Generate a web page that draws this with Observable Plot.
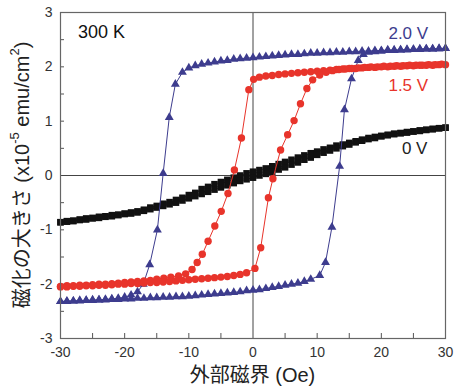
<!DOCTYPE html>
<html><head><meta charset="utf-8">
<script src="https://cdn.jsdelivr.net/npm/d3@7"></script>
<script src="https://cdn.jsdelivr.net/npm/@observablehq/plot@0.6"></script>
<style>
body{margin:0;background:#fff;}
svg{font-family:"Liberation Sans","Noto Sans CJK JP",sans-serif;}
</style></head>
<body><div id="chart"></div>
<script>
// ---- data (field H in Oe, magnetisation in 1e-5 emu/cm^2) ----
const blueDescH = [30,29,28,27,26,25,24,23,22,21,20,19,18,17,16,15,14,13,12,11,10,9,8,7,6,5,4,3,2,1,0,-1,-2,-3,-4,-5,-6,-7,-8,-9,-10,-11,-12.1,-13.05,-14.0,-14.9,-16.1,-17.1,-18,-19,-20,-21,-22,-23,-24,-25,-26,-27,-28,-29,-30];
const blueDescM = [2.34,2.34,2.33,2.33,2.33,2.32,2.32,2.31,2.31,2.31,2.30,2.30,2.29,2.29,2.28,2.28,2.27,2.27,2.26,2.26,2.25,2.25,2.24,2.23,2.23,2.22,2.21,2.20,2.19,2.18,2.17,2.16,2.15,2.14,2.12,2.11,2.09,2.07,2.05,2.02,1.98,1.90,1.68,1.07,0.04,-1.00,-1.64,-2.00,-2.14,-2.20,-2.24,-2.26,-2.27,-2.28,-2.29,-2.29,-2.30,-2.30,-2.31,-2.31,-2.32];
const blueAscH = [-30,-29,-28,-27,-26,-25,-24,-23,-22,-21,-20,-19,-18,-17,-16,-15,-14,-13,-12,-11,-10,-9,-8,-7,-6,-5,-4,-3,-2,-1,0,1,2,3,4,5,6,7,8,9,10.4,11.3,12.3,13.5,14.25,15.35,16.4,17.2,18,19,20,21,22,23,24,25,26,27,28,29,30];
const blueAscM = [-2.32,-2.32,-2.31,-2.31,-2.30,-2.30,-2.29,-2.29,-2.28,-2.28,-2.27,-2.27,-2.26,-2.26,-2.25,-2.25,-2.24,-2.24,-2.23,-2.23,-2.22,-2.21,-2.20,-2.19,-2.18,-2.17,-2.16,-2.15,-2.14,-2.12,-2.11,-2.10,-2.08,-2.06,-2.04,-2.02,-2.00,-1.98,-1.95,-1.91,-1.84,-1.60,-0.95,0.17,1.21,1.78,2.12,2.23,2.27,2.28,2.29,2.30,2.30,2.31,2.31,2.32,2.32,2.33,2.33,2.33,2.34];

const redDescH = [30,29,28,27,26,25,24,23,22,21,20,19,18,17,16,15,14,13,12,11,10,9,8,7,6,5,4,3,2,1,0.1,-0.65,-1.8,-2.9,-3.9,-4.95,-5.95,-7.0,-7.9,-8.7,-9.5,-10.5,-11.6,-12.8,-13.9,-15,-16,-17,-18,-19,-20,-21,-22,-23,-24,-25,-26,-27,-28,-29,-30];
const redDescM = [2.04,2.04,2.03,2.03,2.03,2.02,2.02,2.01,2.01,2.00,2.00,1.99,1.99,1.98,1.97,1.97,1.96,1.95,1.94,1.93,1.92,1.91,1.90,1.89,1.88,1.87,1.86,1.84,1.83,1.81,1.77,1.58,0.69,0.10,-0.33,-0.66,-0.93,-1.21,-1.45,-1.60,-1.73,-1.81,-1.85,-1.87,-1.89,-1.91,-1.93,-1.94,-1.95,-1.96,-1.97,-1.98,-1.99,-2.00,-2.00,-2.01,-2.02,-2.02,-2.03,-2.03,-2.04];
const redAscH = [-30,-29,-28,-27,-26,-25,-24,-23,-22,-21,-20,-19,-18,-17,-16,-15,-14,-13,-12,-11,-10,-9,-8,-7,-6,-5,-4,-3,-2,-1,0.3,1.2,2.4,3.1,4.3,5.4,6.4,7.4,8.4,9.3,10.4,11.4,12.4,13.4,14.4,15.4,16.4,17.4,18.4,19.4,20.4,21.4,22.4,23.4,24.4,25.4,26.4,27.4,28.4,29.4];
const redAscM = [-2.05,-2.05,-2.04,-2.04,-2.03,-2.03,-2.02,-2.02,-2.01,-2.00,-2.00,-1.99,-1.99,-1.98,-1.97,-1.97,-1.96,-1.95,-1.94,-1.93,-1.92,-1.91,-1.90,-1.89,-1.88,-1.87,-1.86,-1.84,-1.82,-1.79,-1.71,-1.33,-0.41,-0.06,0.47,0.75,1.01,1.32,1.60,1.76,1.85,1.90,1.93,1.95,1.96,1.97,1.98,1.99,2.00,2.00,2.01,2.01,2.02,2.02,2.03,2.03,2.03,2.04,2.04,2.05];

const blackDescH = [30,29,28,27,26,25,24,23,22,21,20,19,18,17,16,15,14,13,12,11,10,9,8,7,6,5,4,3,2,1,0,-1,-2,-3,-4,-5,-6,-7,-8,-9,-10,-11,-12,-13,-14,-15,-16,-17,-18,-19,-20,-21,-22,-23,-24,-25,-26,-27,-28,-29,-30];
const blackDescM = [0.88,0.87,0.86,0.84,0.83,0.81,0.80,0.78,0.77,0.75,0.73,0.71,0.69,0.66,0.63,0.60,0.57,0.55,0.51,0.48,0.44,0.41,0.37,0.33,0.29,0.25,0.21,0.17,0.13,0.10,0.07,0.04,0.00,-0.04,-0.08,-0.12,-0.16,-0.21,-0.25,-0.32,-0.36,-0.41,-0.45,-0.49,-0.52,-0.56,-0.59,-0.63,-0.66,-0.68,-0.70,-0.72,-0.73,-0.75,-0.76,-0.78,-0.79,-0.81,-0.83,-0.84,-0.86];
const blackAscH = [-30,-29,-28,-27,-26,-25,-24,-23,-22,-21,-20,-19,-18,-17,-16,-15,-14,-13,-12,-11,-10,-9,-8,-7,-6,-5,-4,-3,-2,-1,0,1,2,3,4,5,6,7,8,9,10,11,12,13,14,15,16,17,18,19,20,21,22,23,24,25,26,27,28,29,30];
const blackAscM = [-0.86,-0.85,-0.84,-0.82,-0.81,-0.79,-0.78,-0.76,-0.75,-0.73,-0.71,-0.70,-0.68,-0.65,-0.62,-0.59,-0.56,-0.53,-0.50,-0.46,-0.42,-0.38,-0.34,-0.30,-0.26,-0.22,-0.18,-0.14,-0.10,-0.07,-0.04,0.00,0.03,0.07,0.11,0.15,0.20,0.24,0.29,0.33,0.38,0.42,0.46,0.50,0.54,0.57,0.61,0.64,0.67,0.69,0.72,0.74,0.76,0.78,0.79,0.81,0.82,0.84,0.85,0.87,0.88];

const xTickLabels = [-30,-20,-10,0,10,20,30];
const xTicks = [-25,-20,-15,-10,-5,5,10,15,20,25];
const yTickLabels = [-3,-2,-1,0,1,2,3];
const yTicks = [-2.5,-2,-1.5,-1,-0.5,0.5,1,1.5,2,2.5];
const seriesLabels = ["2.0 V","1.5 V","0 V"];

const BLUE = "#3d3c8e", RED = "#e8342b", BLACK = "#111";
const toRows = (H, M) => H.map((h, i) => ({H: h, M: M[i]}));
const blueD = toRows(blueDescH, blueDescM), blueA = toRows(blueAscH, blueAscM);
const redD = toRows(redDescH, redDescM), redA = toRows(redAscH, redAscM);
const blkD = toRows(blackDescH, blackDescM), blkA = toRows(blackAscH, blackAscM);

const W = 472, Hh = 391, mL = 60, mR = 27, mT = 12, mB = 53;
const innerW = W - mL - mR, innerH = Hh - mT - mB;
const fmt = d => String(d);

const plot = Plot.plot({
  width: W, height: Hh,
  marginLeft: mL, marginRight: mR, marginTop: mT, marginBottom: mB,
  style: {fontFamily: '"Liberation Sans","Noto Sans CJK JP",sans-serif', background: "#fff"},
  x: {domain: [-30, 30]},
  y: {domain: [-3, 3]},
  marks: [
    Plot.ruleX([0], {stroke: "#444", strokeWidth: 1}),
    Plot.ruleY([0], {stroke: "#444", strokeWidth: 1}),
    Plot.axisX({ticks: xTickLabels, tickFormat: fmt, tickSize: 0, tickPadding: 9, fontSize: 14, fill: "#333", label: null}),
    Plot.axisY({ticks: yTickLabels, tickFormat: fmt, tickSize: 0, tickPadding: 8, fontSize: 14, fill: "#333", label: null}),
    Plot.tickX(xTicks, {x: d => d, insetTop: innerH - 5, stroke: "#555"}),
    Plot.tickY(yTicks, {y: d => d, insetRight: innerW - 4, stroke: "#555"}),
    // black 0 V
    Plot.line(blkD, {x: "H", y: "M", stroke: BLACK, strokeWidth: 0.8}),
    Plot.line(blkA, {x: "H", y: "M", stroke: BLACK, strokeWidth: 0.8}),
    Plot.dot(blkD, {x: "H", y: "M", symbol: "square", r: 3.7, fill: BLACK, stroke: "none"}),
    Plot.dot(blkA, {x: "H", y: "M", symbol: "square", r: 3.7, fill: BLACK, stroke: "none"}),
    // blue 2.0 V
    Plot.line(blueD, {x: "H", y: "M", stroke: BLUE, strokeWidth: 1}),
    Plot.line(blueA, {x: "H", y: "M", stroke: BLUE, strokeWidth: 1}),
    Plot.dot(blueD, {x: "H", y: "M", symbol: "triangle", r: 3.3, fill: BLUE, stroke: "none"}),
    Plot.dot(blueA, {x: "H", y: "M", symbol: "triangle", r: 3.3, fill: BLUE, stroke: "none"}),
    // red 1.5 V
    Plot.line(redD, {x: "H", y: "M", stroke: RED, strokeWidth: 1}),
    Plot.line(redA, {x: "H", y: "M", stroke: RED, strokeWidth: 1}),
    Plot.dot(redD, {x: "H", y: "M", r: 3.7, fill: RED, stroke: "none"}),
    Plot.dot(redA, {x: "H", y: "M", r: 3.7, fill: RED, stroke: "none"}),
    Plot.frame({stroke: "#666", strokeWidth: 1.2}),
    // annotations
    Plot.text(["300 K"], {x: -23.6, y: 2.63, text: d => d, fontSize: 18, fill: "#111"}),
    Plot.text([seriesLabels[0]], {x: 24.2, y: 2.61, text: d => d, fontSize: 17, fill: BLUE}),
    Plot.text([seriesLabels[1]], {x: 24.2, y: 1.66, text: d => d, fontSize: 17, fill: RED}),
    Plot.text([seriesLabels[2]], {x: 25.2, y: 0.5, text: d => d, fontSize: 17, fill: "#222"})
  ]
});
document.getElementById("chart").appendChild(plot);

const svg = d3.select(plot);
// x-axis title
svg.append("text")
  .attr("x", mL + innerW / 2).attr("y", 382)
  .attr("text-anchor", "middle").attr("font-size", 20).attr("fill", "#222")
  .text("外部磁界 (Oe)");
// y-axis title with superscripts
const yt = svg.append("text")
  .attr("transform", `translate(24,${mT + innerH / 2}) rotate(-90)`)
  .attr("text-anchor", "middle").attr("dominant-baseline", "middle")
  .attr("font-size", 20).attr("fill", "#222");
yt.append("tspan").text("磁化の大きさ (x10");
yt.append("tspan").attr("font-size", 13).attr("dy", -8).text("-5");
yt.append("tspan").attr("dy", 8).text(" emu/cm");
yt.append("tspan").attr("font-size", 13).attr("dy", -8).text("2");
yt.append("tspan").attr("dy", 8).text(")");
</script></body></html>
